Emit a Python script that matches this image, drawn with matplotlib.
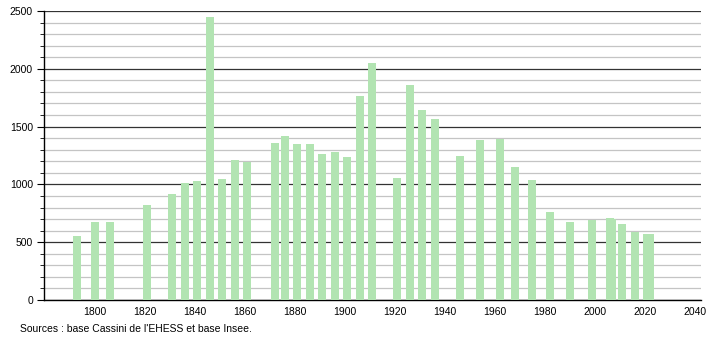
import matplotlib.pyplot as plt
from matplotlib.ticker import MultipleLocator

# census years and population
years = [1793, 1800, 1806, 1821, 1831, 1836, 1841, 1846, 1851, 1856, 1861,
         1872, 1876, 1881, 1886, 1891, 1896, 1901, 1906, 1911,
         1921, 1926, 1931, 1936, 1946, 1954, 1962, 1968, 1975, 1982,
         1990, 1999, 2006, 2007, 2011, 2016, 2021, 2022]
population = [554, 678, 675, 824, 919, 1011, 1028, 2451, 1046, 1209, 1198,
              1359, 1416, 1347, 1347, 1261, 1278, 1235, 1761, 2049,
              1054, 1856, 1640, 1563, 1244, 1382, 1397, 1149, 1037, 761,
              675, 695, 709, 705, 658, 589, 575, 569]
xticks = list(range(1800, 2041, 20))
source = "Sources : base Cassini de l'EHESS et base Insee."

plt.rcParams['font.family'] = ['Liberation Sans', 'DejaVu Sans']

fig = plt.figure(figsize=(7.1, 3.4), dpi=100)
ax = fig.add_axes([0.062, 0.1176, 0.925, 0.85])

ax.bar(years, population, width=3.2, color='#b2e4b2', zorder=3)

ax.set_xlim(1779.6, 2042.5)
ax.set_ylim(0, 2500)
ax.set_xticks(xticks)
ax.yaxis.set_major_locator(MultipleLocator(500))
ax.yaxis.set_minor_locator(MultipleLocator(100))

ax.grid(axis='y', which='minor', color='#c4c4c4', linewidth=0.9, zorder=1)
ax.grid(axis='y', which='major', color='#333333', linewidth=0.9, zorder=2)
ax.grid(axis='x', visible=False)

for s in ['top', 'right']:
    ax.spines[s].set_visible(False)
ax.spines['left'].set_linewidth(1.0)
ax.spines['bottom'].set_linewidth(1.0)

ax.tick_params(axis='x', length=0, labelsize=7.5, pad=5)
ax.tick_params(axis='y', which='major', length=5, labelsize=7.5, pad=3)
ax.tick_params(axis='y', which='minor', length=3)

fig.text(0.028, 0.018, source, fontsize=7.5, ha='left', va='bottom')

fig.savefig('out.png', dpi=100)
